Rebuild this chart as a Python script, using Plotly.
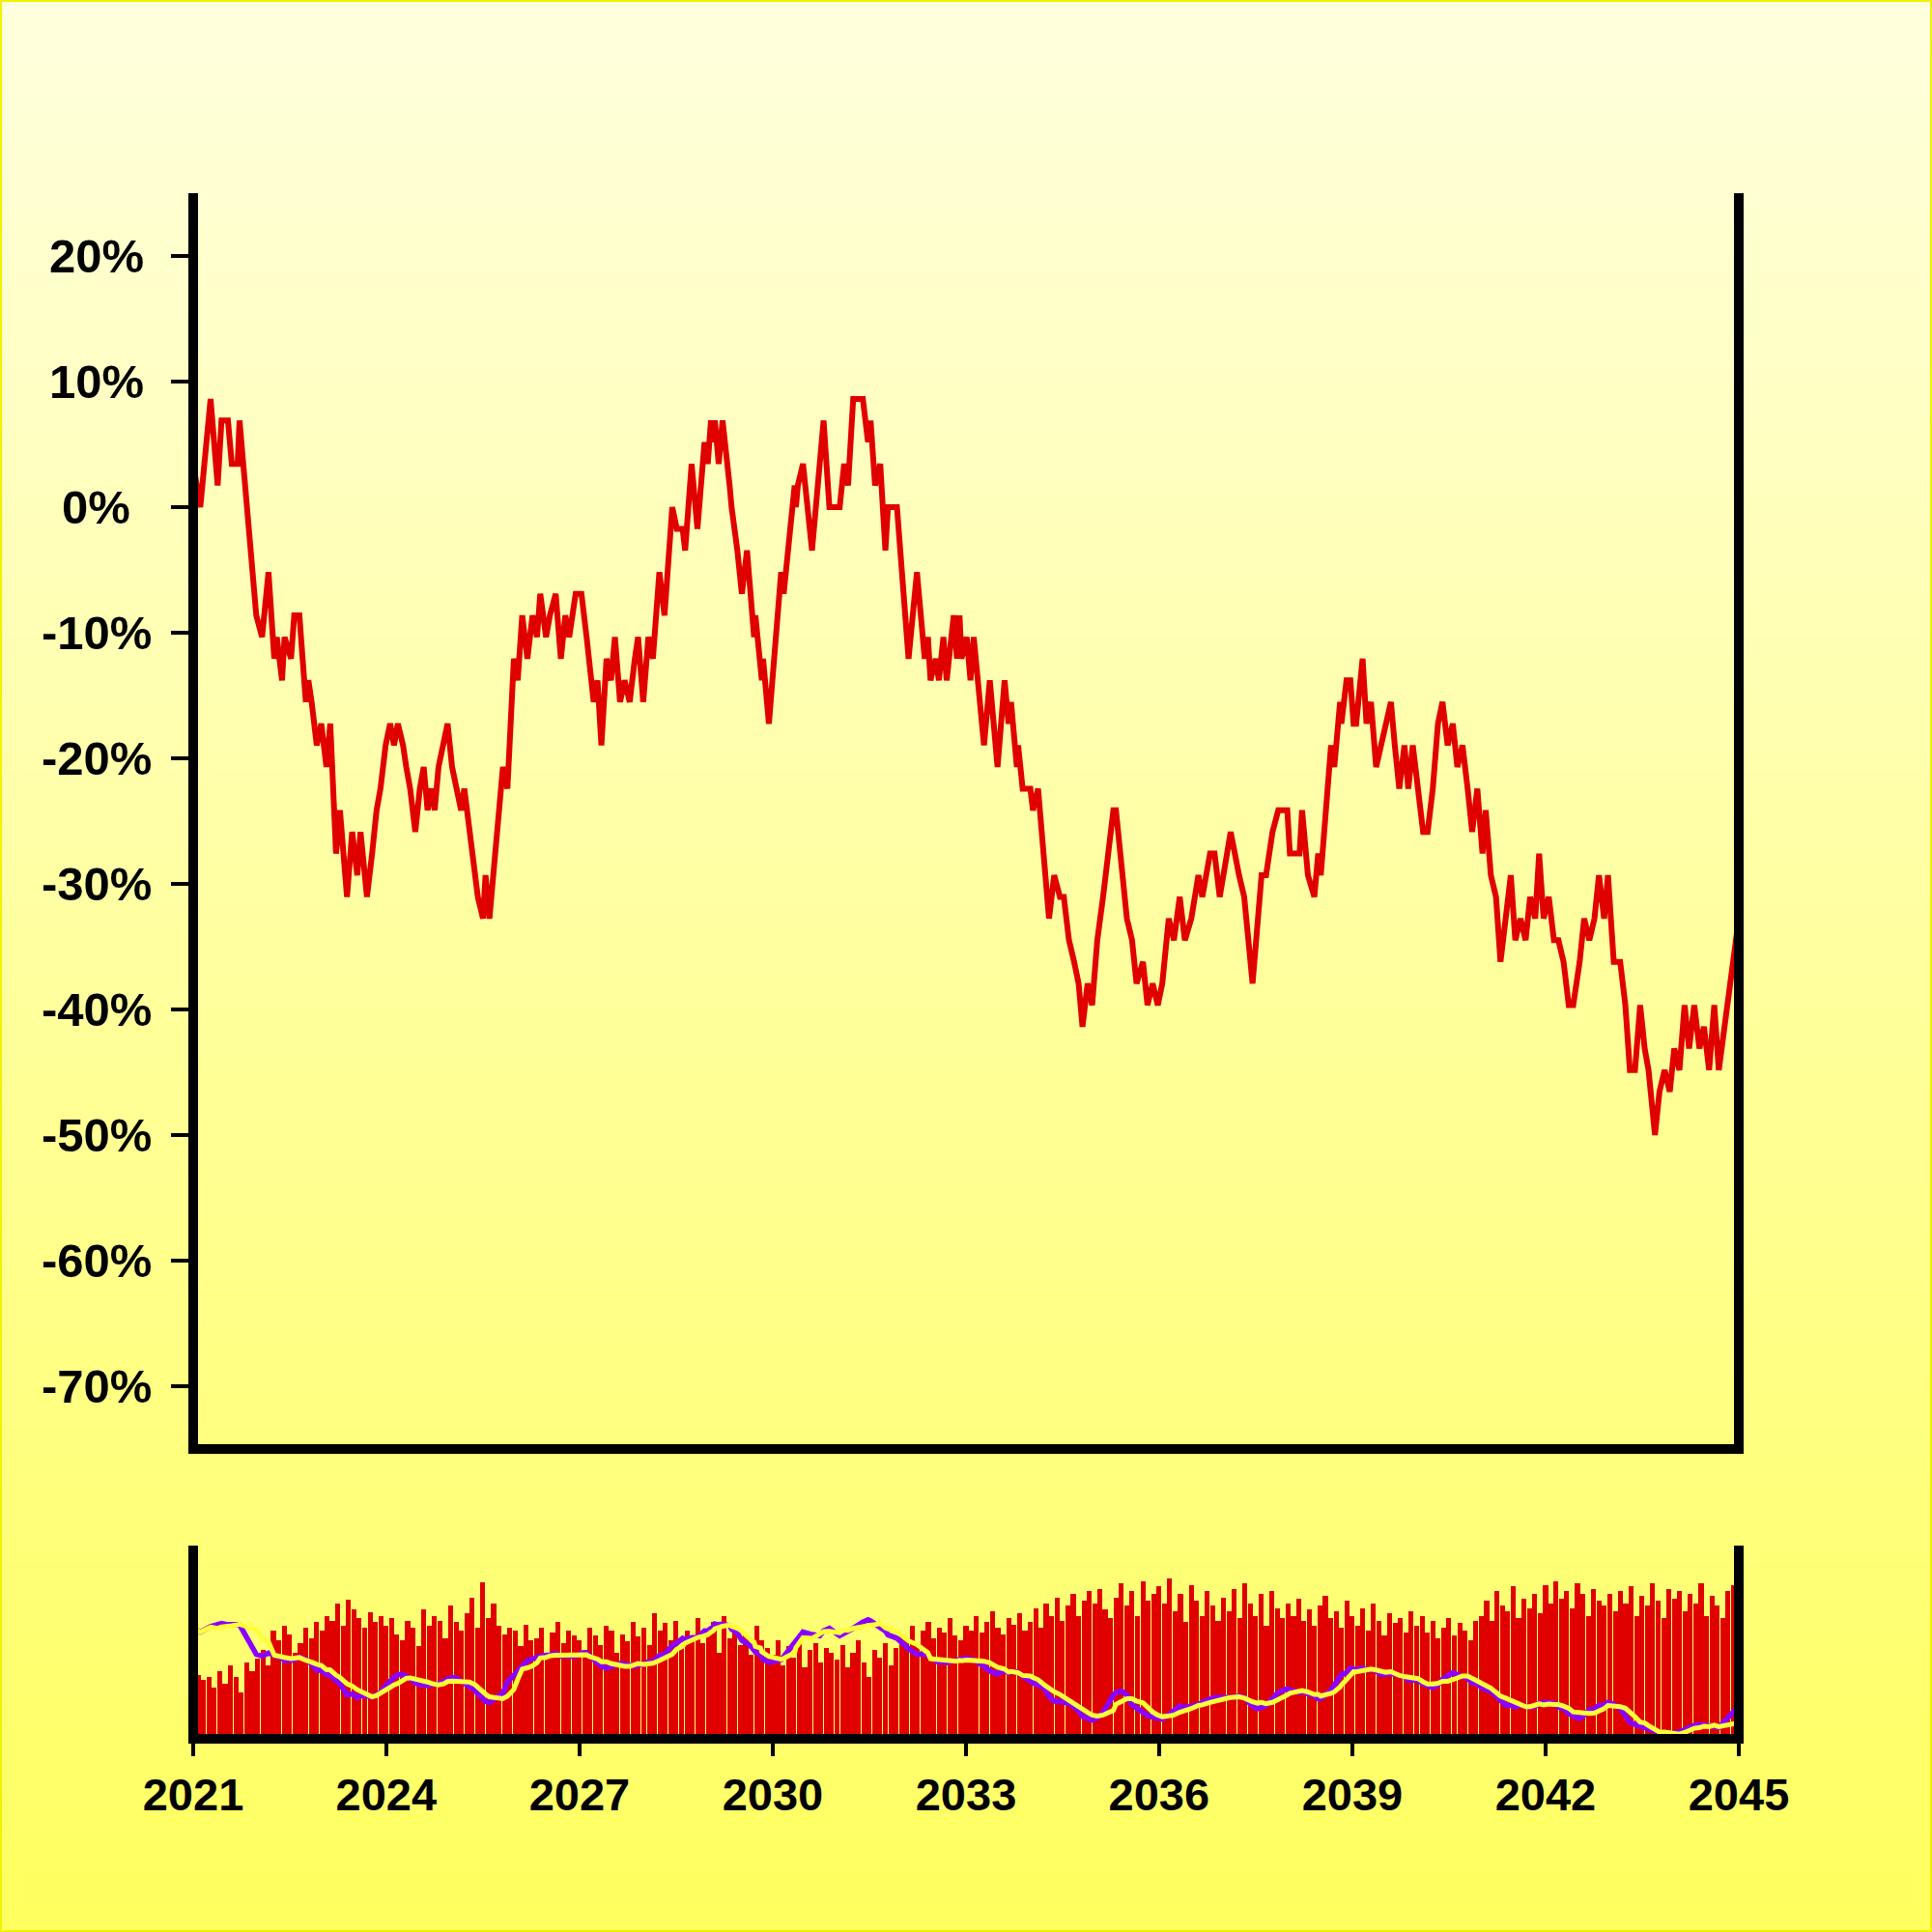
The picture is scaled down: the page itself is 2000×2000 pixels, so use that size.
import pandas as pd
import plotly.graph_objects as go

# ---------------- data ----------------
BASE_PRICE = 58  # reference close for the % comparison

# observation times (decimal years) and integer close prices
t_year = [
    2021.00, 2021.11, 2021.27, 2021.38, 2021.44, 2021.54, 2021.57, 2021.60, 2021.69, 2021.72, 2021.98,
    2022.07, 2022.17, 2022.26, 2022.30, 2022.38, 2022.42, 2022.52, 2022.57, 2022.65, 2022.75, 2022.79, 2022.84, 2022.92, 2022.99,
    2023.07, 2023.13, 2023.22, 2023.28, 2023.39, 2023.47, 2023.55, 2023.60, 2023.70, 2023.78, 2023.85, 2023.91, 2023.99,
    2024.06, 2024.12, 2024.18, 2024.26, 2024.31, 2024.37, 2024.45, 2024.52, 2024.58, 2024.64, 2024.70, 2024.75, 2024.81, 2024.89, 2024.95,
    2025.02, 2025.10, 2025.16, 2025.21, 2025.29, 2025.37, 2025.42, 2025.50, 2025.54, 2025.60, 2025.81, 2025.88, 2025.98,
    2026.04, 2026.11, 2026.19, 2026.27, 2026.34, 2026.39, 2026.48, 2026.54, 2026.63, 2026.71, 2026.78, 2026.84, 2026.94,
    2027.03, 2027.11, 2027.15, 2027.22, 2027.28, 2027.34, 2027.42, 2027.49, 2027.55, 2027.63, 2027.70, 2027.78, 2027.86, 2027.91, 2027.99,
    2028.07, 2028.14, 2028.24, 2028.32, 2028.44, 2028.51, 2028.60, 2028.64, 2028.74, 2028.83, 2028.94, 2028.99,
    2029.04, 2029.07, 2029.10, 2029.16, 2029.22, 2029.33, 2029.36, 2029.45, 2029.52, 2029.60, 2029.68, 2029.71, 2029.73, 2029.81, 2029.83, 2029.85, 2029.94,
    2030.13, 2030.17, 2030.34, 2030.36, 2030.39, 2030.47, 2030.61, 2030.73, 2030.79, 2030.88,
    2031.04, 2031.11, 2031.17, 2031.25, 2031.40, 2031.48, 2031.52, 2031.59, 2031.67, 2031.75, 2031.79, 2031.93,
    2032.11, 2032.24, 2032.36, 2032.41, 2032.45, 2032.53, 2032.58, 2032.65, 2032.70, 2032.81, 2032.86, 2032.90, 2032.93,
    2033.01, 2033.07, 2033.12, 2033.28, 2033.37, 2033.49, 2033.60, 2033.66, 2033.70, 2033.79, 2033.81, 2033.88,
    2034.00, 2034.04, 2034.12, 2034.22, 2034.29, 2034.37, 2034.46, 2034.52, 2034.60, 2034.68, 2034.75, 2034.81, 2034.89, 2034.96,
    2035.04, 2035.13, 2035.29, 2035.33, 2035.42, 2035.50, 2035.58, 2035.65, 2035.75, 2035.82, 2035.90, 2035.98,
    2036.05, 2036.15, 2036.23, 2036.32, 2036.40, 2036.50, 2036.61, 2036.67, 2036.79, 2036.86, 2036.94,
    2037.00, 2037.11, 2037.24, 2037.32, 2037.45, 2037.53, 2037.59, 2037.66, 2037.76, 2037.85, 2037.99,
    2038.03, 2038.18, 2038.22, 2038.31, 2038.41, 2038.47, 2038.51, 2038.67, 2038.72, 2038.81, 2038.83, 2038.91, 2038.97,
    2039.02, 2039.06, 2039.16, 2039.22, 2039.29, 2039.37, 2039.44, 2039.52, 2039.60, 2039.66, 2039.73, 2039.81, 2039.87, 2039.94,
    2040.02, 2040.10, 2040.17, 2040.25, 2040.33, 2040.40, 2040.48, 2040.56, 2040.63, 2040.71, 2040.79, 2040.86, 2040.94,
    2041.02, 2041.07, 2041.15, 2041.23, 2041.30, 2041.38, 2041.46, 2041.53, 2041.61, 2041.69, 2041.76, 2041.84, 2041.90, 2041.97,
    2042.05, 2042.13, 2042.20, 2042.28, 2042.36, 2042.43, 2042.53, 2042.60, 2042.68, 2042.76, 2042.83, 2042.91, 2042.97,
    2043.06, 2043.16, 2043.24, 2043.31, 2043.39, 2043.47, 2043.54, 2043.60, 2043.70, 2043.77, 2043.85, 2043.93,
    2044.00, 2044.08, 2044.16, 2044.23, 2044.31, 2044.39, 2044.46, 2044.54, 2044.62, 2044.69, 2045.00,
]
close = [
    60, 58, 63, 59, 62, 62, 61, 60, 60, 62, 53,
    52, 55, 51, 52, 50, 52, 51, 53, 53, 49, 50, 49, 47, 48,
    46, 48, 42, 44, 40, 43, 41, 43, 40, 42, 44, 45, 47,
    48, 47, 48, 47, 46, 45, 43, 45, 46, 44, 45, 44, 46, 47, 48,
    46, 45, 44, 45, 43, 41, 40, 39, 41, 39, 46, 45, 51,
    50, 53, 51, 53, 52, 54, 52, 53, 54, 51, 53, 52, 54,
    54, 52, 51, 49, 50, 47, 51, 50, 52, 49, 50, 49, 51, 52, 49,
    52, 51, 55, 53, 58, 57, 57, 56, 60, 57, 61, 60,
    62, 61, 62, 60, 62, 59, 58, 56, 54, 56, 53, 52, 53, 51, 50, 51, 48,
    55, 54, 59, 58, 59, 60, 56, 60, 62, 58,
    58, 60, 59, 63, 63, 61, 62, 59, 60, 56, 58, 58,
    51, 55, 51, 52, 50, 51, 50, 52, 50, 53, 51, 53, 51,
    52, 50, 52, 47, 50, 46, 50, 48, 49, 46, 47, 45,
    45, 44, 45, 41, 39, 41, 40, 40, 38, 37, 36, 34, 36, 35,
    38, 40, 44, 44, 41, 39, 38, 36, 37, 35, 36, 35,
    36, 39, 38, 40, 38, 39, 41, 40, 42, 42, 40,
    41, 43, 41, 40, 36, 39, 41, 41, 43, 44, 44,
    42, 42, 44, 41, 40, 42, 41, 47, 46, 49, 48, 50, 50,
    48, 48, 51, 48, 49, 46, 47, 48, 49, 47, 45, 47, 45, 47,
    45, 43, 43, 45, 48, 49, 47, 48, 46, 47, 45, 43, 45,
    42, 44, 41, 40, 37, 39, 41, 38, 39, 38, 40, 39, 42, 39,
    40, 38, 38, 37, 35, 35, 37, 39, 38, 39, 41, 39, 41,
    37, 37, 35, 32, 32, 35, 33, 32, 29, 31, 32, 31,
    33, 32, 35, 33, 35, 33, 34, 32, 35, 32, 39,
]

# monthly volume (one bar per month, Jan 2021 .. Jan 2045)
volume = [
    57, 52, 48, 50, 42, 55, 45, 60, 50, 38, 62, 55,
    65, 72, 60, 88, 80, 92, 85, 70, 78, 90, 82, 95,
    88, 100, 96, 110, 92, 113, 105, 98, 90, 103, 95, 100,
    92, 98, 85, 80, 96, 90, 75, 105, 92, 100, 96, 82,
    108, 95, 88, 102, 115, 90, 127, 98, 110, 92, 85, 90,
    88, 75, 93, 80, 82, 90, 70, 86, 95, 78, 88, 84,
    80, 72, 90, 84, 76, 92, 88, 70, 85, 79, 95, 83,
    90, 76, 102, 88, 94, 80, 96, 74, 88, 83, 98, 78,
    86, 95, 70, 100, 82, 90, 76, 85, 68, 92, 80, 74,
    68, 80, 60, 75, 66, 84, 58, 72, 78, 62, 74, 70,
    64, 76, 58, 70, 80, 62, 50, 72, 66, 78, 60, 74,
    85, 80, 92, 78, 88, 95, 82, 90, 86, 98, 84, 80,
    92, 88, 100, 86, 95, 104, 90, 85, 98, 93, 102, 88,
    95, 106, 90, 110, 100, 115, 96, 108, 118, 100, 112, 120,
    110, 122, 105, 98, 115, 126, 108, 120, 100, 128, 112, 118,
    124, 110, 130, 104, 118, 95, 125, 112, 100, 120, 108, 96,
    115, 104, 122, 98, 126, 110, 100, 118, 92, 120, 106, 98,
    110, 100, 114, 96, 105, 92, 108, 116, 98, 104, 90, 112,
    100, 92, 106, 88, 110, 96, 84, 102, 94, 98, 86, 104,
    92, 100, 86, 96, 82, 90, 98, 84, 94, 88, 80, 96,
    100, 112, 96, 120, 108, 104, 124, 98, 114, 106, 118, 102,
    125, 110, 128, 114, 120, 106, 126, 118, 100, 122, 112, 108,
    118, 104, 120, 110, 124, 100, 116, 108, 126, 112, 98, 122,
    114, 120, 104, 118, 110, 126, 100, 116, 108, 98, 120, 125,
    112,
]

x_ticks = [2021, 2024, 2027, 2030, 2033, 2036, 2039, 2042, 2045]
y_ticks = [20, 10, 0, -10, -20, -30, -40, -50, -60, -70]

FAST_WINDOW = "90D"
SLOW_WINDOW = "180D"

# ---------------- derived ----------------
def year_to_date(t):
    y = int(t)
    start = pd.Timestamp(year=y, month=1, day=1)
    end = pd.Timestamp(year=y + 1, month=1, day=1)
    return start + (end - start) * (t - y)

dates = [year_to_date(t) for t in t_year]
pct = [(c / BASE_PRICE - 1) * 100 for c in close]
months = pd.date_range("2021-01-01", periods=len(volume), freq="MS")

s = pd.Series(pct, index=pd.DatetimeIndex(dates))
ma_fast = s.rolling(FAST_WINDOW).mean()
ma_slow = s.rolling(SLOW_WINDOW).mean()

RED = "#E10000"
PURPLE = "#8A00FF"
YELLOW = "#FFFF3A"
FONT = "Liberation Sans"

fig = go.Figure()
fig.add_trace(go.Scatter(x=dates, y=pct, mode="lines",
                         line=dict(color=RED, width=6), xaxis="x", yaxis="y",
                         showlegend=False, hoverinfo="skip"))
fig.add_trace(go.Bar(x=months, y=volume, marker=dict(color=RED, line=dict(width=0)),
                     xaxis="x2", yaxis="y3", showlegend=False, hoverinfo="skip"))
fig.add_trace(go.Scatter(x=ma_fast.index, y=ma_fast.values, mode="lines",
                         line=dict(color=PURPLE, width=5.5), xaxis="x2", yaxis="y4",
                         showlegend=False, hoverinfo="skip"))
fig.add_trace(go.Scatter(x=ma_slow.index, y=ma_slow.values, mode="lines",
                         line=dict(color=YELLOW, width=5), xaxis="x2", yaxis="y4",
                         showlegend=False, hoverinfo="skip"))

x_range = ["2021-01-01", "2045-01-01"]
tick_dates = [pd.Timestamp(year=y, month=1, day=1) for y in x_ticks]

# ---------------- layout ----------------
W, H = 2000, 2000
M = 200
PW, PH = W - 2 * M, H - 2 * M
main_dom = [0.1875, 1.0]   # figure rows 200..1500
panel_dom = [0.0, 0.125]   # figure rows 1600..1800
AXIS_W = 10
half = (AXIS_W / 2) / PW

def px_to_paper_x(px):
    return (px - M) / PW

def px_to_paper_y(py):
    return (H - M - py) / PH

shapes = []
# background gradient (light cream at top -> yellow at bottom)
N = 100
for i in range(N):
    r0 = H * i / N
    r1 = H * (i + 1) / N
    b = int(round(222 - 127 * ((r0 + r1) / 2) / H))
    shapes.append(dict(type="rect", xref="paper", yref="paper",
                       x0=px_to_paper_x(0), x1=px_to_paper_x(W),
                       y0=px_to_paper_y(r1), y1=px_to_paper_y(r0) + 0.001,
                       fillcolor=f"rgb(255,255,{b})", line=dict(width=0), layer="below"))
shapes.append(dict(type="rect", xref="paper", yref="paper",
                   x0=px_to_paper_x(1), x1=px_to_paper_x(W - 1),
                   y0=px_to_paper_y(H - 1), y1=px_to_paper_y(1),
                   line=dict(color="#F2F200", width=2), layer="below"))

# axis frame lines (left, right, bottom) for both panes, centred on the pane edges
axis_line = dict(color="black", width=AXIS_W)
for dom in (main_dom, panel_dom):
    shapes.append(dict(type="line", xref="paper", yref="paper", x0=0, x1=0,
                       y0=dom[0], y1=dom[1], line=axis_line, layer="above"))
    shapes.append(dict(type="line", xref="paper", yref="paper", x0=1, x1=1,
                       y0=dom[0], y1=dom[1], line=axis_line, layer="above"))
    shapes.append(dict(type="line", xref="paper", yref="paper", x0=-half, x1=1 + half,
                       y0=dom[0], y1=dom[0], line=axis_line, layer="above"))

annotations = [dict(xref="paper", yref="y", x=px_to_paper_x(99.5), y=v,
                    text=f"{v}%", showarrow=False, xanchor="center", yanchor="middle",
                    font=dict(family=FONT, size=49, color="black", weight="bold"))
               for v in y_ticks]

fig.update_layout(
    width=W, height=H,
    margin=dict(l=M, r=M, t=M, b=M),
    paper_bgcolor="rgba(0,0,0,0)",
    plot_bgcolor="rgba(0,0,0,0)",
    shapes=shapes,
    annotations=annotations,
    bargap=0.0,
    showlegend=False,
    xaxis=dict(domain=[0, 1], anchor="y", type="date", range=x_range,
               showticklabels=False, ticks="", showgrid=False, zeroline=False,
               showline=False),
    yaxis=dict(domain=main_dom, anchor="x", range=[-75, 25],
               tickvals=y_ticks, ticks="outside", ticklen=22, tickwidth=3.5, tickcolor="black",
               showticklabels=False, showgrid=False, zeroline=False, showline=False),
    xaxis2=dict(domain=[0, 1], anchor="y3", type="date", range=x_range,
                tickvals=tick_dates, ticktext=[str(y) for y in x_ticks],
                ticks="outside", ticklen=17, tickwidth=4, tickcolor="black",
                tickfont=dict(family=FONT, size=47, color="black", weight="bold"),
                showgrid=False, zeroline=False, showline=False),
    yaxis3=dict(domain=panel_dom, anchor="x2", range=[0, 157],
                showticklabels=False, ticks="", showgrid=False, zeroline=False,
                showline=False),
    yaxis4=dict(domain=panel_dom, anchor="x2", overlaying="y3", range=[-48, 42],
                showticklabels=False, ticks="", showgrid=False, zeroline=False,
                showline=False),
)

fig.write_html("out.html", config={"displayModeBar": False},
               post_script="document.body.style.margin='0px';")
